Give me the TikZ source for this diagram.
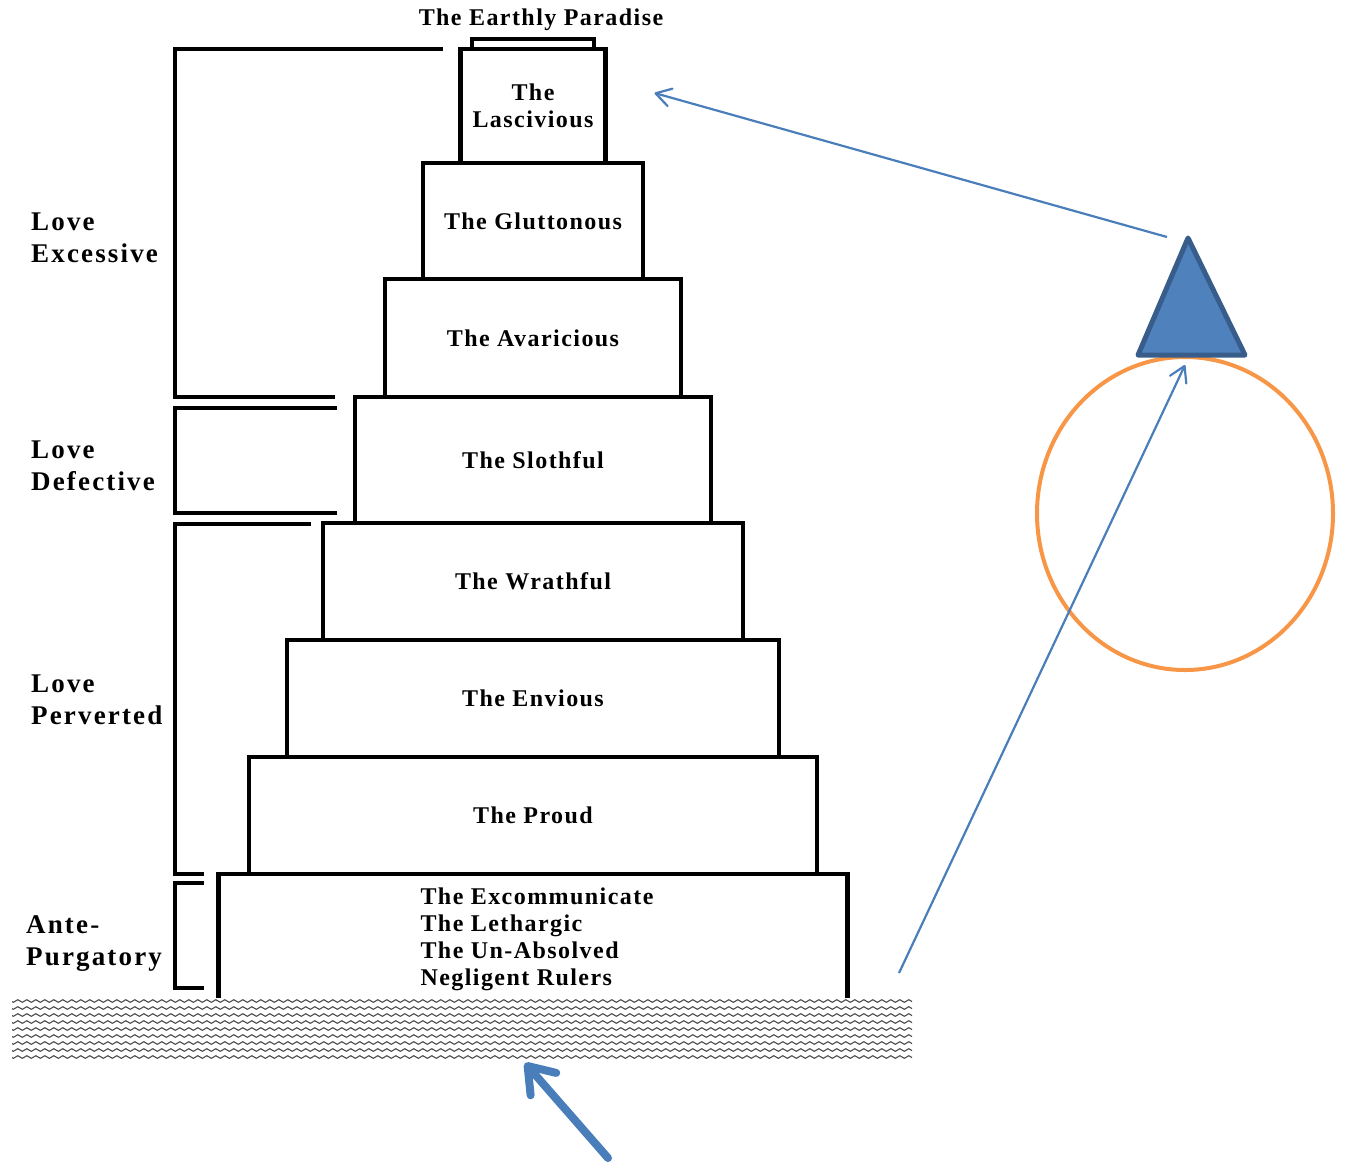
\documentclass[tikz,border=0pt]{standalone}
\usepackage{fontspec}
\setmainfont{Liberation Serif}
\newfontfamily\tierfont{Liberation Serif}[LetterSpace=6]
\newfontfamily\sidefont{Liberation Serif}[LetterSpace=8]
\usetikzlibrary{arrows.meta,positioning,decorations.pathmorphing,shapes.geometric}
\definecolor{arrowblue}{HTML}{4A7EBB}
\definecolor{conefill}{HTML}{4F81BD}
\definecolor{coneline}{HTML}{385D8A}
\definecolor{ringorange}{HTML}{F79646}
\begin{document}
\begin{tikzpicture}[x=1pt,y=-1pt,
    tier/.style={draw=black, line width=4.5pt, rectangle, inner sep=0pt, outer sep=0pt,
        align=center, font=\tierfont\bfseries\fontsize{24}{27}\selectfont},
    side/.style={anchor=west, inner sep=0pt, align=left,
        font=\sidefont\bfseries\fontsize{27}{32}\selectfont},
    bracket/.style={draw=black, line width=4.5pt},
    wave/.style={draw=black!70, line width=1.1pt, decorate,
        decoration={snake, segment length=9pt, amplitude=1.3pt}},
    pointer/.style={draw=arrowblue, line width=2.2pt,
        -{Straight Barb[length=15pt,width=18pt,round]}},
    bigpointer/.style={draw=arrowblue, line width=8pt, line cap=round,
        -{Straight Barb[length=24pt,width=34pt,round]}}]
    \useasboundingbox (0,0) rectangle (1348,1163);

    % the shore
    \begin{scope}
        \clip (12,998) rectangle (912,1061);
        \foreach \y in {1001,1008,...,1057}
            \draw[wave] (6,\y) -- (918,\y);
    \end{scope}

    % the terraces
    \node[tier, minimum width=568pt, minimum height=117pt] (proud) at (533,815.5) {The Proud};
    \node[tier, minimum width=492pt, minimum height=117pt, above=0pt of proud] (envious) {The Envious};
    \node[tier, minimum width=420pt, minimum height=117pt, above=0pt of envious] (wrathful) {The Wrathful};
    \node[tier, minimum width=356pt, minimum height=126pt, above=0pt of wrathful] (slothful) {The Slothful};
    \node[tier, minimum width=296pt, minimum height=118pt, above=0pt of slothful] (avaricious) {The Avaricious};
    \node[tier, minimum width=220pt, minimum height=116pt, above=0pt of avaricious] (gluttonous) {The Gluttonous};
    \node[tier, minimum width=145pt, minimum height=114pt, above=0pt of gluttonous] (lascivious) {The\\Lascivious};
    \node[tier, line width=3.5pt, minimum width=122pt, minimum height=10pt, above=0pt of lascivious] (paradisebox) {};
    \node[tier, draw=none] (paradise) at (541,20) {The Earthly Paradise};

    % ante-purgatory, open at the shore
    \node[tier, draw=none, align=left, minimum width=629pt, minimum height=124pt, below=0pt of proud] (ante) {};
    \node[tier, draw=none, align=left] (antetext) at ([xshift=4pt,yshift=-3pt]ante.center)
        {The Excommunicate\\The Lethargic\\The Un-Absolved\\Negligent Rulers};
    \draw[line width=4.5pt] (ante.south west) -- (ante.north west) -- (ante.north east) -- (ante.south east);

    % the brackets
    \draw[bracket] (443,49) -| (175,397) -- (335,397);
    \draw[bracket] (337,408) -| (175,513) -- (337,513);
    \draw[bracket] (311,524) -| (175,874) -- (204,874);
    \draw[bracket] (204,883) -| (175,988) -- (204,988);
    \node[side] (excessive) at (31,238) {Love\\Excessive};
    \node[side] (defective) at (31,466) {Love\\Defective};
    \node[side] (perverted) at (31,700) {Love\\Perverted};
    \node[side] (antelabel) at (26,944) {Ante-\\Purgatory};

    % the globe and the mountain on it
    \node[draw=ringorange, line width=4pt, ellipse, minimum width=296pt, minimum height=313pt, inner sep=0pt] (ring) at (1185,513.5) {};
    \filldraw[fill=conefill, draw=coneline, line width=5pt, line join=round] (1188,238) -- (1245,355) -- (1138,355) -- cycle;

    % the arrows
    \coordinate (conetip) at (1167,237);
    \coordinate (shore) at (899,973);
    \coordinate (ringtop) at ([yshift=-10pt]ring.north);
    \coordinate (below) at (608,1158);
    \coordinate (sea) at (525,1063);
    \draw[pointer] (conetip) -- ([shift={(49,44)}]lascivious.north east);
    \draw[pointer] (shore) -- (ringtop);
    \draw[bigpointer] (below) -- (sea);
\end{tikzpicture}
\end{document}
